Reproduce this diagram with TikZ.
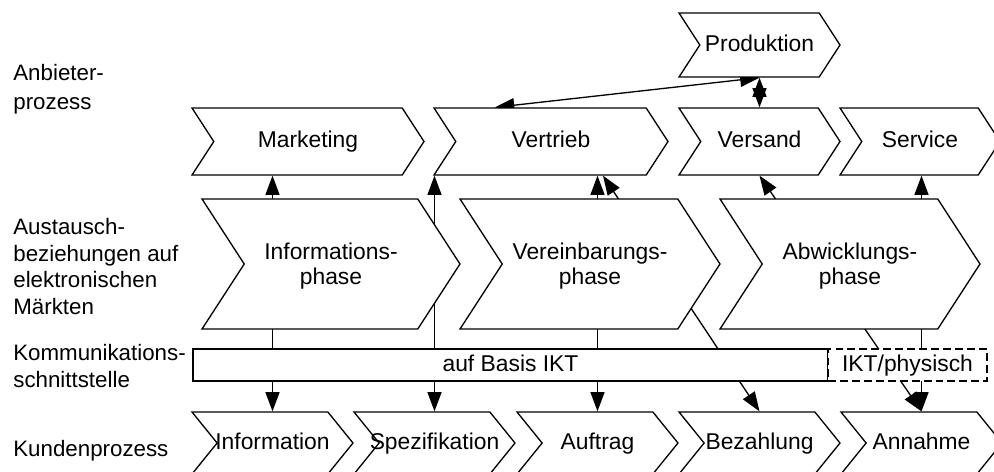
\documentclass[tikz,border=0pt]{standalone}
\usepackage{fontspec}
\setmainfont{Liberation Sans}
\usetikzlibrary{shapes.symbols,arrows.meta,backgrounds,calc}

\tikzset{
  chev/.style={signal, signal from=west, signal to=east, draw, fill=white,
    line width=0.75pt, inner sep=0pt, align=center},
  strut/.style={text height=9.6pt, text depth=2.4pt},
  toprow/.style={chev, strut, minimum height=1.34cm, signal pointer angle=114},
  phase/.style={chev, minimum height=2.6cm, signal pointer angle=114,
    font=\fontsize{13}{14.2}\selectfont, text depth=-1.5pt},
  kunde/.style={chev, strut, minimum height=1.24cm, minimum width=3.22cm,
    signal pointer angle=102, inner xsep=-15pt},
  bar/.style={draw, fill=white, line width=0.75pt, inner sep=0pt, strut,
    minimum height=0.64cm},
  lbl/.style={anchor=west, align=left, inner sep=0pt, font=\fontsize{12.7}{15}\selectfont},
  conn/.style={{Triangle[length=11pt,width=8pt]}-{Triangle[length=11pt,width=8pt]},
    line width=0.75pt}
}

\begin{document}
\begin{tikzpicture}[x=0.02cm,y=-0.02cm,font=\fontsize{13}{15}\selectfont]
\useasboundingbox (0,0) rectangle (994,471);

% Anbieterprozess
\node[toprow, minimum height=1.28cm, minimum width=3.22cm] (prod) at (759.5,45) {Produktion};
\node[toprow, minimum width=4.64cm] (mkt) at (308,141.5) {Marketing};
\node[toprow, minimum width=4.68cm] (vtr) at (551,141.5) {Vertrieb};
\node[toprow, minimum width=3.22cm] (vers) at (759.5,141.5) {Versand};
\node[toprow, minimum width=3.2cm] (serv) at (920,141.5) {Service};

% Phasen
\node[phase, minimum width=5.16cm] (infph) at (331,264) {Informations-\\phase};
\node[phase, minimum width=5.2cm] (verph) at (590,264) {Vereinbarungs-\\phase};
\node[phase, minimum width=5.2cm] (abwph) at (850,264) {Abwicklungs-\\phase};

% Schnittstelle
\node[bar, minimum width=12.7cm] (ikt) at (510.5,365) {auf Basis IKT};
\node[bar, dash pattern=on 4.5pt off 2.3pt, minimum width=3.18cm] (iktph) at (907.5,365) {IKT/physisch};

% Kundenprozess
\foreach \x/\n/\t in {272.5/kinf/Information, 434.5/kspez/Spezifikation,
    597.5/kauf/Auftrag, 759.5/kbez/Bezahlung, 921.5/kann/Annahme}
  \node[kunde] (\n) at (\x,443) {\t};

% Zeilen
\node[lbl] (lanb) at (13,89) {Anbieter-\\[1.5pt]prozess};
\node[lbl] (laus) at (13,266.5) {Austausch-\\beziehungen auf\\elektronischen\\Märkten};
\node[lbl] (lkom) at (13,366) {Kommunikations-\\schnittstelle};
\node[lbl] (lkun) at (13,451) {Kundenprozess};

\begin{pgfonlayer}{background}
\draw[conn] (kinf.north) -- (mkt.south -| kinf.north);
\draw[conn] (kspez.north) -- (vtr.south -| kspez.north);
\draw[conn] (kauf.north) -- (vtr.south -| kauf.north);
\draw[conn] (kbez.north) -- ($(vtr.south)+(52,0)$);
\draw[conn] (kann.north) -- (vers.south);
\draw[conn] (kann.north) -- (serv.south -| kann.north);
\draw[conn] (prod.south) -- ($(vtr.north)+(-56,0)$);
\draw[conn] (prod.south) -- (vers.north);
\end{pgfonlayer}
\end{tikzpicture}
\end{document}
